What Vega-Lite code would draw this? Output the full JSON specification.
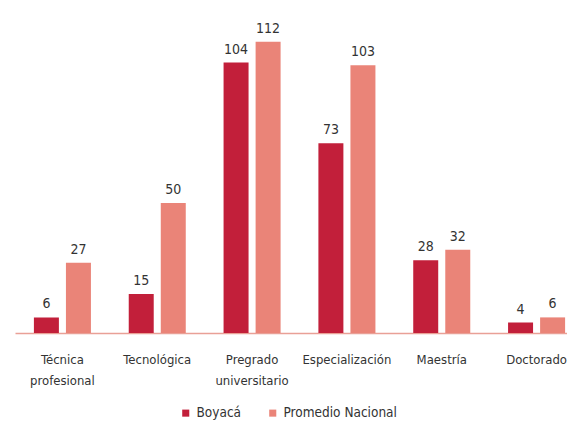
{
  "$schema": "https://vega.github.io/schema/vega-lite/v6.json",
  "autosize": "none",
  "width": 552,
  "height": 312,
  "padding": {"left": 15, "top": 21, "right": 0, "bottom": 91},
  "background": "white",
  "config": {
    "view": {"stroke": null},
    "font": "DejaVu Sans Condensed, Liberation Sans, sans-serif"
  },
  "data": {
    "values": [
      {"nivel": "Técnica profesional", "serie": "Boyacá", "valor": 6},
      {"nivel": "Técnica profesional", "serie": "Promedio Nacional", "valor": 27},
      {"nivel": "Tecnológica", "serie": "Boyacá", "valor": 15},
      {"nivel": "Tecnológica", "serie": "Promedio Nacional", "valor": 50},
      {"nivel": "Pregrado universitario", "serie": "Boyacá", "valor": 104},
      {"nivel": "Pregrado universitario", "serie": "Promedio Nacional", "valor": 112},
      {"nivel": "Especialización", "serie": "Boyacá", "valor": 73},
      {"nivel": "Especialización", "serie": "Promedio Nacional", "valor": 103},
      {"nivel": "Maestría", "serie": "Boyacá", "valor": 28},
      {"nivel": "Maestría", "serie": "Promedio Nacional", "valor": 32},
      {"nivel": "Doctorado", "serie": "Boyacá", "valor": 4},
      {"nivel": "Doctorado", "serie": "Promedio Nacional", "valor": 6}
    ]
  },
  "encoding": {
    "x": {
      "field": "nivel", "type": "nominal", "sort": null,
      "scale": {"range": [0, 569], "paddingInner": 0, "paddingOuter": 0},
      "axis": {
        "title": null, "labelAngle": 0, "ticks": false,
        "domainColor": "#e9a096", "domainWidth": 1.5,
        "labelFontSize": 13, "labelColor": "#333333",
        "labelPadding": 26, "labelLineHeight": 21, "labelBaseline": "middle",
        "labelExpr": "split(datum.value, ' ')"
      }
    },
    "xOffset": {
      "field": "serie", "type": "nominal",
      "scale": {"paddingInner": 0.22, "paddingOuter": 0.59}
    },
    "y": {
      "field": "valor", "type": "quantitative",
      "scale": {"domain": [0, 120], "nice": false},
      "axis": null
    }
  },
  "layer": [
    {
      "mark": {"type": "bar"},
      "encoding": {
        "color": {
          "field": "serie", "type": "nominal",
          "scale": {"domain": ["Boyacá", "Promedio Nacional"], "range": ["#c21f3a", "#ea8478"]},
          "legend": {
            "title": null, "orient": "none", "legendX": 164, "legendY": 385, "direction": "horizontal",
            "symbolType": "square", "symbolSize": 50, "symbolOffset": 0, "padding": 0,
            "labelFontSize": 13.5, "labelColor": "#333333", "labelOffset": 4,
            "columnPadding": 24
          }
        }
      }
    },
    {
      "mark": {"type": "text", "baseline": "bottom", "dy": -6, "fontSize": 14, "color": "#333333"},
      "encoding": {
        "text": {"field": "valor", "type": "quantitative"}
      }
    }
  ]
}
